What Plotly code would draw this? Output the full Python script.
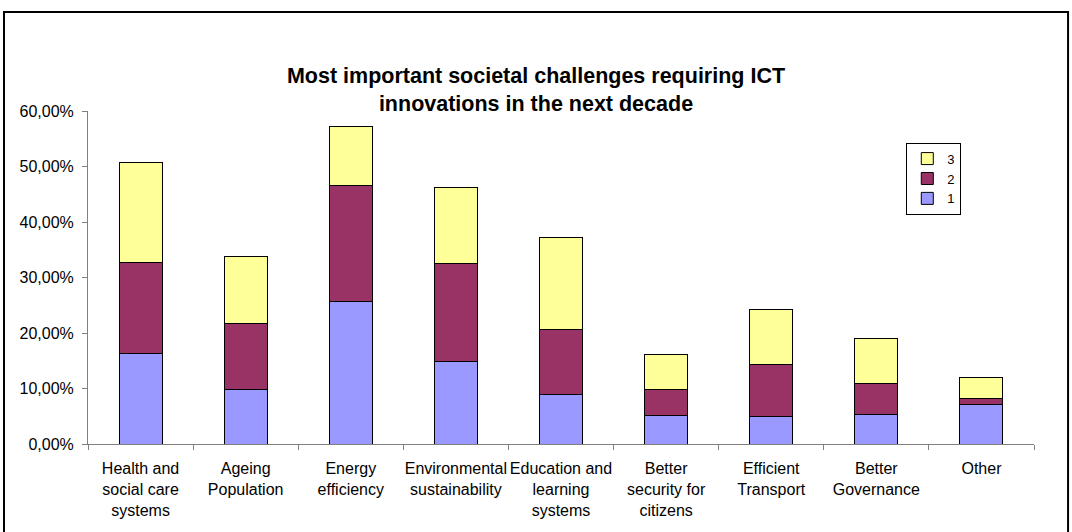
import plotly.graph_objects as go

categories = [
    "Health and<br>social care<br>systems",
    "Ageing<br>Population",
    "Energy<br>efficiency",
    "Environmental<br>sustainability",
    "Education and<br>learning<br>systems",
    "Better<br>security for<br>citizens",
    "Efficient<br>Transport",
    "Better<br>Governance",
    "Other",
]

# share of respondents (%), by ranking position
rank_1 = [16.3, 9.75, 25.75, 14.85, 8.85, 5.2, 5.0, 5.35, 7.15]
rank_2 = [16.4, 12.05, 20.75, 17.65, 11.75, 4.55, 9.4, 5.55, 1.1]
rank_3 = [18.1, 11.95, 10.7, 13.8, 16.6, 6.35, 9.9, 8.05, 3.75]

y_ticks = [0, 10, 20, 30, 40, 50, 60]
y_tick_text = ["0,00%", "10,00%", "20,00%", "30,00%", "40,00%", "50,00%", "60,00%"]

series = [("1", rank_1, "#9999FF"), ("2", rank_2, "#993366"), ("3", rank_3, "#FFFF99")]

fig = go.Figure()
for name, vals, color in series:
    fig.add_trace(go.Bar(
        name=name, x=categories, y=vals,
        marker=dict(color=color, line=dict(color="black", width=1)),
        width=0.41,
    ))

font = "Arial, Liberation Sans, sans-serif"
fig.update_layout(
    barmode="stack",
    width=1072, height=532,
    margin=dict(l=88, r=38, t=111, b=88),
    paper_bgcolor="white", plot_bgcolor="white",
    font=dict(family=font, size=13, color="black"),
    title=dict(
        text="<b>Most important societal challenges requiring ICT<br>innovations in the next decade</b>",
        x=0.5, xanchor="center", y=0.844, yanchor="middle",
        font=dict(size=21.5, family=font, color="black"),
    ),
    xaxis=dict(
        showline=True, linecolor="#808080", linewidth=1,
        ticks="outside", tickson="boundaries", ticklen=5, tickcolor="#808080",
        showgrid=False, tickangle=0, tickfont=dict(size=16),
        ticklabelstandoff=10,
    ),
    yaxis=dict(
        range=[0, 60], tickvals=y_ticks, ticktext=y_tick_text,
        showline=True, linecolor="#808080", linewidth=1,
        ticks="outside", ticklen=5, tickcolor="#808080",
        showgrid=False, zeroline=False, tickfont=dict(size=16),
        ticklabelstandoff=5,
    ),
    legend=dict(
        x=0.865, y=0.905, xanchor="left", yanchor="top",
        traceorder="reversed",
        bordercolor="black", borderwidth=1, bgcolor="white",
        font=dict(size=13), itemwidth=30,
    ),
    shapes=[dict(
        type="rect", xref="paper", yref="paper",
        x0=-0.0888, x1=1.036, y0=-0.3, y1=1.297,
        line=dict(color="black", width=2), fillcolor="rgba(0,0,0,0)", layer="below",
    )],
)

fig.write_html("out.html", config={"displayModeBar": False},
               post_script="document.body.style.margin='0';")
